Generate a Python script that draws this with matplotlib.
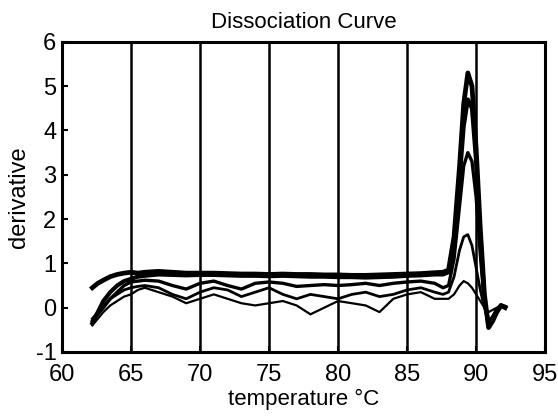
import matplotlib.pyplot as plt

plt.rcParams['font.family'] = ['Liberation Sans', 'DejaVu Sans']
plt.rcParams['axes.unicode_minus'] = False

# temperatures (deg C) shared by all melt curves
temps = [62.2, 62.6, 63.0, 63.5, 64.0, 64.5, 65.0, 65.5, 66, 67, 68, 69, 70, 71, 72,
         73, 74, 75, 76, 77, 78, 79, 80, 81, 82, 83, 84, 85, 86, 87,
         87.6, 88.0, 88.4, 88.8, 89.1, 89.4, 89.7, 90.0, 90.3, 90.6, 90.9,
         91.2, 91.5, 91.8, 92.1]

curve_a = [0.45, 0.55, 0.62, 0.70, 0.75, 0.78, 0.80, 0.78, 0.80, 0.82, 0.80, 0.78, 0.78, 0.78, 0.77,
           0.76, 0.76, 0.75, 0.76, 0.75, 0.75, 0.74, 0.74, 0.73, 0.73, 0.74, 0.75, 0.76, 0.77, 0.79,
           0.80, 0.85, 1.6, 3.2, 4.6, 5.3, 5.0, 3.6, 1.8, 0.3, -0.45,
           -0.3, -0.1, 0.05, 0.0]
curve_b = [-0.35, -0.1, 0.15, 0.35, 0.5, 0.6, 0.65, 0.7, 0.72, 0.75, 0.74, 0.73, 0.74, 0.74, 0.73,
           0.72, 0.72, 0.71, 0.72, 0.71, 0.70, 0.70, 0.69, 0.69, 0.68, 0.69, 0.70, 0.72, 0.73, 0.75,
           0.75, 0.8, 1.4, 2.9, 4.1, 4.7, 4.5, 3.3, 1.6, 0.2, -0.4,
           -0.25, -0.05, 0.05, 0.02]
curve_c = [-0.3, -0.15, 0.0, 0.2, 0.35, 0.5, 0.58, 0.6, 0.62, 0.6, 0.5, 0.42, 0.55, 0.6, 0.5,
           0.42, 0.55, 0.58, 0.55, 0.48, 0.5, 0.52, 0.5, 0.52, 0.55, 0.5, 0.55, 0.58, 0.6, 0.55,
           0.45, 0.5, 1.1, 2.3, 3.2, 3.5, 3.3, 2.5, 1.2, 0.1, -0.35,
           -0.2, -0.05, 0.05, 0.0]
curve_d = [-0.25, -0.1, 0.05, 0.2, 0.3, 0.4, 0.45, 0.48, 0.5, 0.45, 0.3, 0.2, 0.35, 0.45, 0.4,
           0.25, 0.35, 0.45, 0.3, 0.2, 0.3, 0.25, 0.2, 0.3, 0.35, 0.25, 0.3, 0.4, 0.45, 0.35,
           0.3, 0.35, 0.7, 1.3, 1.6, 1.65, 1.4, 0.9, 0.4, 0.0, -0.3,
           -0.2, -0.05, 0.05, 0.0]
curve_e = [-0.4, -0.25, -0.1, 0.05, 0.15, 0.25, 0.3, 0.4, 0.45, 0.35, 0.25, 0.1, 0.2, 0.3, 0.2,
           0.1, 0.05, 0.1, 0.15, 0.05, -0.15, 0.0, 0.15, 0.1, 0.05, -0.1, 0.2, 0.3, 0.35, 0.2,
           0.2, 0.2, 0.3, 0.5, 0.6, 0.55, 0.45, 0.3, 0.15, 0.0, -0.1,
           -0.05, 0.0, 0.05, 0.0]

curves = [curve_a, curve_b, curve_c, curve_d, curve_e]
widths = [3.4, 3.0, 2.4, 2.0, 1.6]

fig = plt.figure(figsize=(5.58, 4.19), dpi=100)
ax = fig.add_axes([0.111, 0.16, 0.866, 0.74])

for vals, lw in zip(curves, widths):
    ax.plot(temps, vals, color='black', linewidth=lw)

ax.set_xlim(60, 95)
ax.set_ylim(-1, 6)
ax.set_xticks(range(60, 96, 5))
ax.set_yticks(range(-1, 7))
ax.grid(axis='x', color='black', linewidth=1.8)
ax.tick_params(direction='in', labelsize=17, length=4, width=1.5)
ax.tick_params(axis='x', pad=9)
ax.tick_params(axis='y', pad=4)
for s in ax.spines.values():
    s.set_linewidth(2.2)

ax.set_title("Dissociation Curve", fontsize=16, pad=10)
ax.set_xlabel("temperature °C", fontsize=16, labelpad=2)
ax.set_ylabel("derivative", fontsize=17, labelpad=4)

fig.savefig("out.png", dpi=100)
